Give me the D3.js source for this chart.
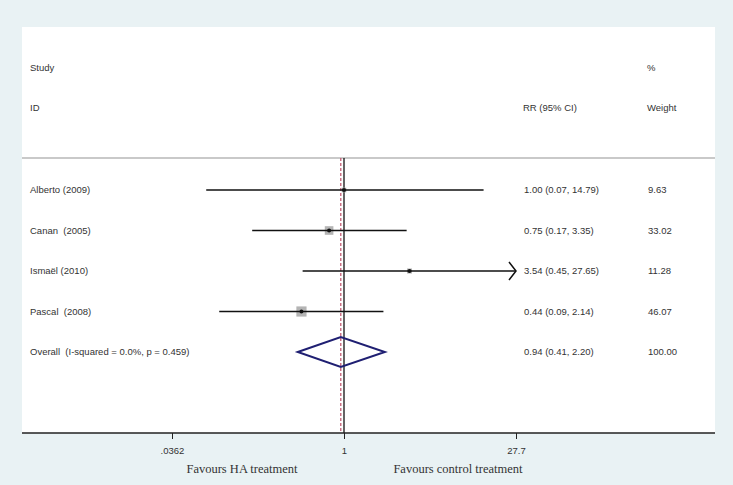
<!DOCTYPE html>
<html>
<head>
<meta charset="utf-8">
<script src="https://cdn.jsdelivr.net/npm/d3@7"></script>
<style>
  body { margin: 0; background: #e9f2f4; }
  svg { display: block; }
</style>
</head>
<body>
<div id="chart"></div>
<script>
// study data
const studies = ["Alberto (2009)", "Canan  (2005)", "Ismaël (2010)", "Pascal  (2008)"];
const rr = [1.00, 0.75, 3.54, 0.44];
const lo = [0.07, 0.17, 0.45, 0.09];
const hi = [14.79, 3.35, 27.65, 2.14];
const weights = [9.63, 33.02, 11.28, 46.07];
const ciText = ["1.00 (0.07, 14.79)", "0.75 (0.17, 3.35)", "3.54 (0.45, 27.65)", "0.44 (0.09, 2.14)"];

// pooled estimate
const overallLabel = "Overall  (I-squared = 0.0%, p = 0.459)";
const overallEst = [0.94, 0.41, 2.20];   // rr, lo, hi
const overallCiText = "0.94 (0.41, 2.20)";
const overallWeight = "100.00";

// axis
const tickValues = [1 / 27.65, 1, 27.65];
const tickLabels = [".0362", "1", "27.7"];

const width = 733, height = 485;
const box = {left: 22, right: 715, top: 27, bottom: 433};
const sepY = 158;
const sans = "'Liberation Sans', Arial, sans-serif";
const serif = "'Liberation Serif', 'Times New Roman', serif";
const keepSpaces = s => s.replace(/  /g, "\u00a0 ");

const svg = d3.select("#chart").append("svg")
    .attr("width", width)
    .attr("height", height)
    .style("font-family", sans);

svg.append("rect")
    .attr("x", 0).attr("y", 0)
    .attr("width", width).attr("height", height)
    .attr("fill", "#e9f2f4");

svg.append("rect")
    .attr("x", box.left).attr("y", box.top)
    .attr("width", box.right - box.left).attr("height", box.bottom - box.top)
    .attr("fill", "#ffffff");

const xMax = d3.max(hi);
const x = d3.scaleLog()
    .domain([1 / xMax, xMax])
    .range([172, 516]);

const rows = studies.concat([overallLabel]);
const y = d3.scalePoint()
    .domain(rows)
    .range([190, 352]);

// header
const head = svg.append("g").attr("font-size", "9.5px").attr("fill", "#333");
head.append("text").attr("x", 30).attr("y", 71).text("Study");
head.append("text").attr("x", 30).attr("y", 111).text("ID");
head.append("text").attr("x", 523).attr("y", 111).text("RR (95% CI)");
head.append("text").attr("x", 647).attr("y", 71).text("%");
head.append("text").attr("x", 647).attr("y", 111).text("Weight");

// separator
svg.append("line")
    .attr("x1", box.left).attr("x2", box.right)
    .attr("y1", sepY).attr("y2", sepY)
    .attr("stroke", "#c9c9c9")
    .attr("stroke-width", 2);

// null line and overall line
svg.append("line")
    .attr("x1", x(1)).attr("x2", x(1))
    .attr("y1", sepY).attr("y2", box.bottom)
    .attr("stroke", "#111")
    .attr("stroke-width", 1.3);

svg.append("line")
    .attr("x1", x(overallEst[0])).attr("x2", x(overallEst[0]))
    .attr("y1", sepY).attr("y2", box.bottom)
    .attr("stroke", "#c0506a")
    .attr("stroke-width", 1.2)
    .attr("stroke-dasharray", "3,2");

const data = studies.map((s, i) => ({
  study: s, rr: rr[i], lo: lo[i], hi: hi[i], w: weights[i], ci: ciText[i]
}));

// weight squares
const k = 1.5;
svg.selectAll("rect.wt")
  .data(data)
  .join("rect")
    .attr("class", "wt")
    .attr("x", d => x(d.rr) - k * Math.sqrt(d.w) / 2)
    .attr("y", d => y(d.study) - k * Math.sqrt(d.w) / 2)
    .attr("width", d => k * Math.sqrt(d.w))
    .attr("height", d => k * Math.sqrt(d.w))
    .attr("fill", "#b4b4b4");

// confidence intervals
svg.selectAll("line.ci")
  .data(data)
  .join("line")
    .attr("class", "ci")
    .attr("x1", d => x(Math.max(d.lo, 1 / xMax)))
    .attr("x2", d => x(Math.min(d.hi, xMax)))
    .attr("y1", d => y(d.study))
    .attr("y2", d => y(d.study))
    .attr("stroke", "#111")
    .attr("stroke-width", 1.5);

// arrow when the CI reaches the axis limit
svg.selectAll("path.arrow")
  .data(data.filter(d => d.hi >= xMax))
  .join("path")
    .attr("class", "arrow")
    .attr("d", d => {
      const ax = x(xMax), ay = y(d.study);
      return `M${ax - 7},${ay - 9}L${ax},${ay}L${ax - 7},${ay + 9}`;
    })
    .attr("fill", "none")
    .attr("stroke", "#111")
    .attr("stroke-width", 1.5);

// point estimates
svg.selectAll("circle.pt")
  .data(data)
  .join("circle")
    .attr("class", "pt")
    .attr("cx", d => x(d.rr))
    .attr("cy", d => y(d.study))
    .attr("r", 2)
    .attr("fill", "#111");

// overall diamond
const oy = y(overallLabel);
svg.append("path")
    .attr("d", `M${x(overallEst[1])},${oy}L${x(overallEst[0])},${oy - 15}L${x(overallEst[2])},${oy}L${x(overallEst[0])},${oy + 15}Z`)
    .attr("fill", "none")
    .attr("stroke", "#1f1f72")
    .attr("stroke-width", 2);

// row labels and columns
const txt = svg.append("g").attr("font-size", "9.5px").attr("fill", "#333");
txt.selectAll("text.lab")
  .data(rows)
  .join("text")
    .attr("class", "lab")
    .attr("x", 30)
    .attr("y", d => y(d) + 3)
    .text(d => keepSpaces(d));

txt.selectAll("text.ci")
  .data(ciText.concat([overallCiText]))
  .join("text")
    .attr("class", "ci")
    .attr("x", 524)
    .attr("y", (d, i) => y(rows[i]) + 3)
    .text(d => d);

txt.selectAll("text.w")
  .data(weights.map(w => w.toFixed(2)).concat([overallWeight]))
  .join("text")
    .attr("class", "w")
    .attr("x", 648)
    .attr("y", (d, i) => y(rows[i]) + 3)
    .text(d => d);

// x axis
svg.append("line")
    .attr("x1", box.left).attr("x2", box.right)
    .attr("y1", box.bottom).attr("y2", box.bottom)
    .attr("stroke", "#222")
    .attr("stroke-width", 1.5);

const axis = svg.append("g")
    .attr("transform", `translate(0,${box.bottom})`)
    .call(d3.axisBottom(x)
      .tickValues(tickValues)
      .tickFormat((d, i) => tickLabels[i])
      .tickSize(6)
      .tickSizeOuter(0));
axis.select(".domain").remove();
axis.selectAll(".tick line").attr("stroke", "#222");
axis.selectAll(".tick text")
    .style("font-family", sans)
    .attr("font-size", "9.5px")
    .attr("fill", "#333")
    .attr("y", 18)
    .attr("dy", "0.35em");

// favours labels
svg.append("text")
    .attr("x", 242).attr("y", 473)
    .attr("text-anchor", "middle")
    .style("font-family", serif)
    .attr("font-size", "12.5px")
    .attr("fill", "#333")
    .text("Favours HA treatment");

svg.append("text")
    .attr("x", 458).attr("y", 473)
    .attr("text-anchor", "middle")
    .style("font-family", serif)
    .attr("font-size", "12.5px")
    .attr("fill", "#333")
    .text("Favours control treatment");
</script>
</body>
</html>
